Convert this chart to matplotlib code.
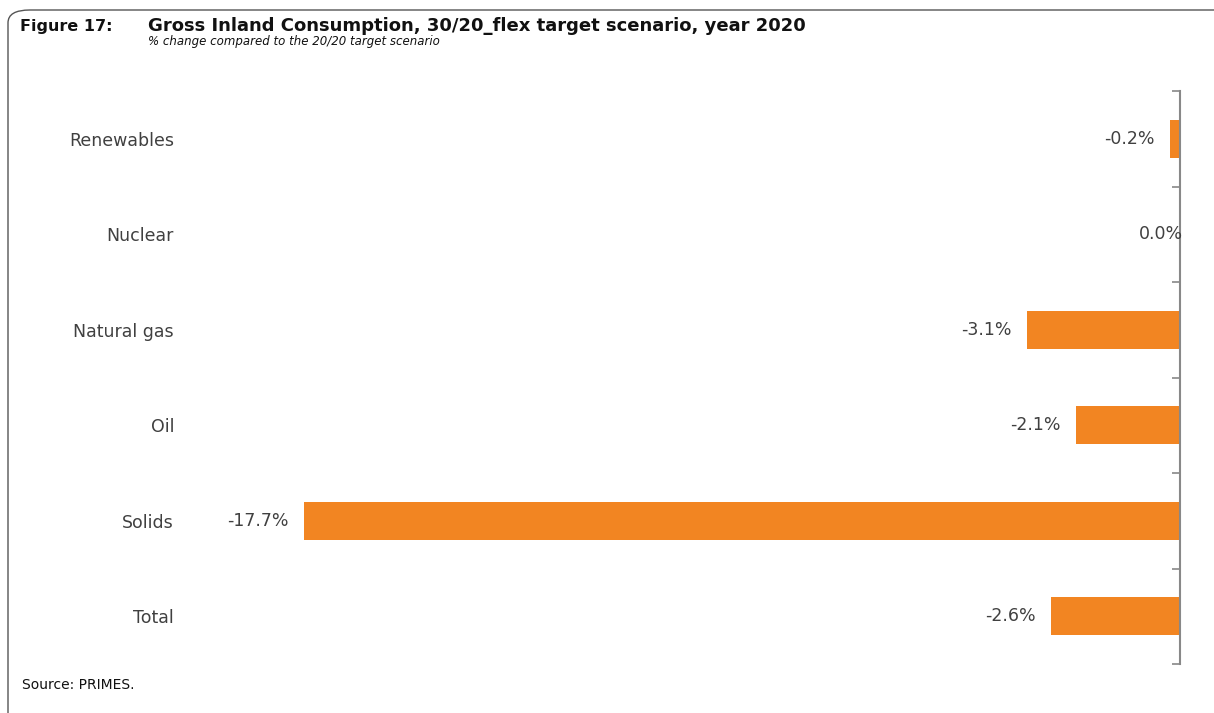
import numpy as np
import matplotlib
matplotlib.use('Agg')
import matplotlib.pyplot as plt
from matplotlib.patches import FancyBboxPatch

# data
categories = ['Renewables', 'Nuclear', 'Natural gas', 'Oil', 'Solids', 'Total']
values = [-0.2, 0.0, -3.1, -2.1, -17.7, -2.6]

orange = '#F28522'
txt = '#404040'

plt.rcParams['font.family'] = ['DejaVu Sans']

fig = plt.figure(figsize=(12.14, 7.13), dpi=100)

# rounded frame around the figure
frame = FancyBboxPatch((8 / 1214, -0.05), 1.05, 1 - 10 / 713 + 0.05,
                       boxstyle='round,pad=0,rounding_size=0.018',
                       transform=fig.transFigure, fill=False,
                       edgecolor='#555555', linewidth=1.0)
fig.patches.append(frame)

ax = fig.add_axes([190 / 1214, 1 - 664 / 713, 990 / 1214, 573 / 713])

y = np.arange(len(categories))
ax.barh(y, values, height=0.4, color=orange)
ax.set_ylim(len(categories) - 0.5, -0.5)
ax.set_xlim(-20, 0)

for i, v in enumerate(values):
    if v < 0:
        ax.annotate('%.1f%%' % v, (v, i), xytext=(-11, 0), textcoords='offset points',
                    ha='right', va='center', fontsize=12.5, color=txt)
    else:
        ax.annotate('%.1f%%' % v, (v, i), xytext=(2, 0), textcoords='offset points',
                    ha='right', va='center', fontsize=12.5, color=txt)

ax.set_yticks(y)
ax.set_yticklabels(categories, fontsize=12.5, color=txt)
ax.set_yticks(np.arange(len(categories) + 1) - 0.5, minor=True)
ax.tick_params(axis='y', which='major', left=False, right=False, pad=8)
ax.tick_params(axis='y', which='minor', left=False, right=True, direction='in',
               length=6, color='#888888', width=1.2)
ax.set_xticks([])
for s in ['left', 'top', 'bottom']:
    ax.spines[s].set_visible(False)
ax.spines['right'].set_color('#888888')
ax.spines['right'].set_linewidth(1.5)

fig.text(20 / 1214, 1 - 26 / 713, 'Figure 17:', fontsize=11.5, fontweight='bold',
         color='#111111', va='center')
fig.text(148 / 1214, 1 - 26 / 713, 'Gross Inland Consumption, 30/20_flex target scenario, year 2020',
         fontsize=13, fontweight='bold', color='#111111', va='center')
fig.text(148 / 1214, 1 - 41 / 713, '% change compared to the 20/20 target scenario',
         fontsize=8.5, style='italic', color='#111111', va='center')
fig.text(22 / 1214, 1 - 685 / 713, 'Source: PRIMES.', fontsize=10, color='#111111', va='center')

fig.savefig('out.png', dpi=100)
